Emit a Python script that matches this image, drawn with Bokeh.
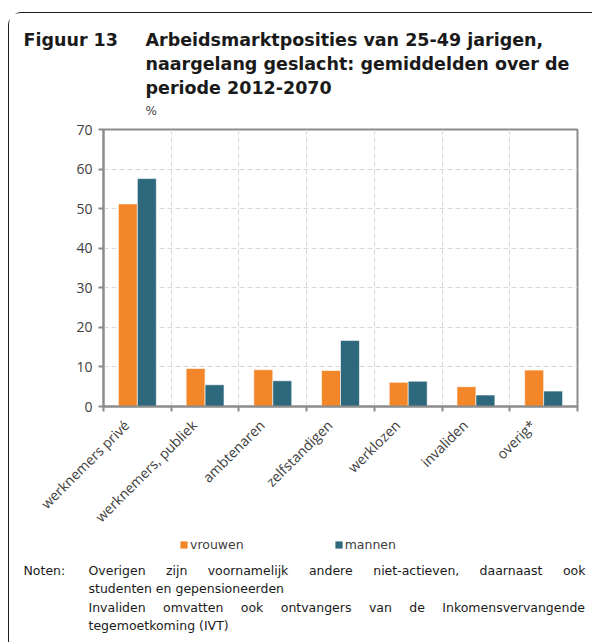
import math
from bokeh.plotting import figure
from bokeh.layouts import column
from bokeh.models import (ColumnDataSource, FixedTicker, CustomJSTickFormatter,
                          Legend, LegendItem, Range1d)
from bokeh.core.properties import value
from bokeh.embed import file_html
from bokeh.resources import INLINE

# ---------------- data ----------------
categories = ["werknemers privé", "werknemers, publiek", "ambtenaren", "zelfstandigen",
              "werklozen", "invaliden", "overig*"]
vrouwen = [51.2, 9.6, 9.3, 9.1, 6.1, 5.0, 9.2]
mannen = [57.6, 5.5, 6.5, 16.7, 6.4, 2.9, 3.9]
y_ticks = [0, 10, 20, 30, 40, 50, 60, 70]
series_names = ["vrouwen", "mannen"]

title_num = "Figuur 13"
title_lines = ["Arbeidsmarktposities van 25-49 jarigen,",
               "naargelang geslacht: gemiddelden over de",
               "periode 2012-2070"]
unit_label = "%"
notes_head = "Noten:"
note1 = "Overigen zijn voornamelijk andere niet-actieven, daarnaast ook"
note2 = "studenten en gepensioneerden"
note3 = "Invaliden omvatten ook ontvangers van de Inkomensvervangende"
note4 = "tegemoetkoming (IVT)"

# ---------------- style ----------------
ORANGE = "#F4862A"
BLUE = "#2D687C"
AXIS = "#8c8c8c"
GRID = "#d9d9d9"
TXT = "#404040"
DARK = "#1a1a1a"
BAR_W = 0.28
LABEL_SHIFT = 0.16
W = 583
H_TOP, H_MAIN, H_BOT = 108, 416, 105
NOTE_PX = 12.5

# approximate DejaVu Sans advance widths (em) used to justify the note lines
ADV = {"a": .613, "b": .635, "c": .550, "d": .635, "e": .615, "f": .352, "g": .635,
       "h": .634, "i": .278, "j": .278, "k": .579, "l": .278, "m": .974, "n": .634,
       "o": .612, "p": .635, "r": .411, "s": .521, "t": .392, "u": .634, "v": .592,
       "w": .818, "x": .592, "y": .592, "z": .525, "O": .787, "I": .295, ",": .318,
       "-": .361}


def text_fig(h):
    f = figure(width=W, height=h, x_range=Range1d(0, W), y_range=Range1d(h, 0),
               x_axis_type=None, y_axis_type=None, output_backend="svg",
               toolbar_location=None, min_border=0)
    f.frame_align = False
    f.outline_line_color = None
    f.grid.visible = False
    f.background_fill_color = "white"
    f.border_fill_color = "white"
    return f


def put(f, txt, x, y, size="12.5px", bold=False, align="left", color=DARK):
    f.text(x=[x], y=[y], text=[txt], text_font=value("DejaVu Sans"), text_font_size=size,
           text_font_style="bold" if bold else "normal", text_color=color,
           text_align=align, text_baseline="middle")


def put_justified(f, line, x0, x1, y):
    words = line.split(" ")
    widths = [sum(ADV.get(c, 0.6) for c in w) * NOTE_PX for w in words]
    gap = (x1 - x0 - sum(widths)) / (len(words) - 1)
    x = x0
    for w, wd in zip(words, widths):
        put(f, w, x, y, size=f"{NOTE_PX}px")
        x += wd + gap


# ---------------- title block ----------------
top = text_fig(H_TOP)
put(top, title_num, 14, 26, size="17.5px", bold=True)
for i, line in enumerate(title_lines):
    put(top, line, 136, 26 + 24 * i, size="17.5px", bold=True)
put(top, unit_label, 136, 97, size="12px", color=TXT)

# ---------------- main chart ----------------
n = len(categories)
src = ColumnDataSource(dict(
    xv=[i + 0.5 - BAR_W / 2 for i in range(n)],
    xm=[i + 0.5 + BAR_W / 2 for i in range(n)],
    vrouwen=vrouwen, mannen=mannen))

p = figure(width=W, height=H_MAIN, x_range=Range1d(0, n),
           y_range=Range1d(y_ticks[0], y_ticks[-1]),
           output_backend="svg", toolbar_location=None,
           min_border_left=94, min_border_right=15, min_border_top=8, min_border_bottom=131)
p.frame_align = False
p.outline_line_color = AXIS
p.outline_line_width = 2
p.background_fill_color = "white"
p.border_fill_color = "white"

p.vbar(x="xv", top="vrouwen", width=BAR_W, source=src, fill_color=ORANGE,
       line_color="white", line_width=0.6)
p.vbar(x="xm", top="mannen", width=BAR_W, source=src, fill_color=BLUE,
       line_color="white", line_width=0.6)

xa = p.xaxis[0]
xa.ticker = FixedTicker(ticks=[i + 0.5 - LABEL_SHIFT for i in range(n)],
                        minor_ticks=list(range(n + 1)))
xa.formatter = CustomJSTickFormatter(args=dict(cats=categories),
                                     code="return cats[Math.floor(tick)] || '';")
xa.major_tick_line_color = None
xa.minor_tick_in = 0
xa.minor_tick_out = 5
xa.minor_tick_line_color = AXIS
xa.minor_tick_line_width = 2
xa.axis_line_color = AXIS
xa.axis_line_width = 2
xa.major_label_orientation = math.pi / 4
xa.major_label_text_font = "Open Sans"
xa.major_label_text_font_size = "14px"
xa.major_label_text_color = TXT
xa.major_label_standoff = 10

ya = p.yaxis[0]
ya.ticker = FixedTicker(ticks=y_ticks)
ya.minor_tick_line_color = None
ya.major_tick_in = 0
ya.major_tick_out = 5
ya.major_tick_line_color = AXIS
ya.major_tick_line_width = 2
ya.axis_line_color = AXIS
ya.axis_line_width = 2
ya.major_label_text_font = "Open Sans"
ya.major_label_text_font_size = "14px"
ya.major_label_text_color = TXT
ya.major_label_standoff = 6

p.xgrid.ticker = FixedTicker(ticks=list(range(1, n)))
p.ygrid.ticker = FixedTicker(ticks=y_ticks[1:-1])
for g in (p.xgrid[0], p.ygrid[0]):
    g.grid_line_color = GRID
    g.grid_line_dash = "5 3"
    g.grid_line_width = 1

# ---------------- legend + notes ----------------
bot = text_fig(H_BOT)
nan = float("nan")
lr1 = bot.vbar(x=[nan], top=[nan], width=1, fill_color=ORANGE, line_color=None)
lr2 = bot.vbar(x=[nan], top=[nan], width=1, fill_color=BLUE, line_color=None)
legend = Legend(items=[LegendItem(label=series_names[0], renderers=[lr1]),
                       LegendItem(label=series_names[1], renderers=[lr2])],
                orientation="horizontal", location=(170, 90),
                glyph_width=9, glyph_height=9, label_standoff=2, spacing=90,
                padding=0, margin=0, border_line_color=None, background_fill_alpha=0,
                label_text_font="DejaVu Sans", label_text_font_size="12.5px",
                label_text_color=TXT, label_height=14)
bot.add_layout(legend)

put(bot, notes_head, 14, 33)
put_justified(bot, note1, 79, 576, 33)
put(bot, note2, 79, 51)
put_justified(bot, note3, 79, 576, 70)
put(bot, note4, 79, 88)

layout = column(top, p, bot, spacing=0)
layout.styles = {"border-left": "1px solid #1a1a1a", "border-top": "1px solid #1a1a1a",
                 "border-top-left-radius": "14px", "margin-left": "8px", "margin-top": "12px",
                 "background-color": "white"}

open("out.html", "w").write(file_html(layout, INLINE))
